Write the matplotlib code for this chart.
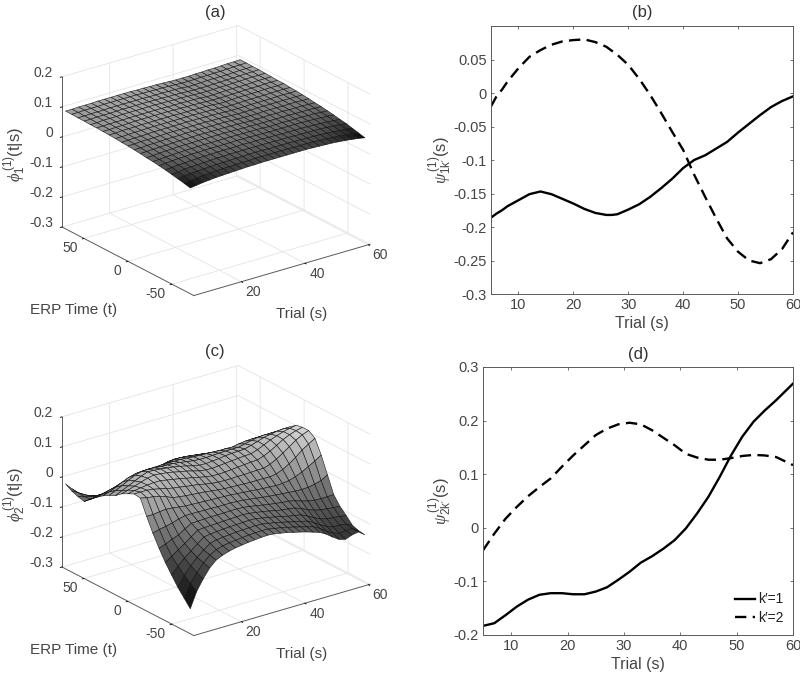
import numpy as np
import matplotlib
matplotlib.use("Agg")
import matplotlib.pyplot as plt
from mpl_toolkits.mplot3d import proj3d

plt.rcParams['font.family'] = ['Liberation Sans', 'DejaVu Sans']
plt.rcParams['mathtext.fontset'] = 'custom'
plt.rcParams['mathtext.rm'] = 'Liberation Sans'
plt.rcParams['mathtext.it'] = 'Liberation Serif:italic'
plt.rcParams['mathtext.fallback'] = 'stix'
plt.rcParams['axes.unicode_minus'] = False

W, H = 800, 674
TXT = '#454545'
AXC = '#5a5a5a'

# ---- curves ----
trial_b = [5,6,7,8,10,12,14,16,18,20,22,24,26,27,28,30,32,34,36,38,40,42,44,46,48,50,52,54,56,58,60]
b_solid = [-.186,-.180,-.175,-.169,-.160,-.151,-.147,-.151,-.158,-.165,-.173,-.179,-.182,-.182,-.181,-.174,-.166,-.155,-.142,-.128,-.112,-.100,-.093,-.083,-.073,-.059,-.046,-.033,-.021,-.012,-.005]
trial_b2 = [5,6,7,8,10,12,14,16,18,20,22,24,26,28,30,32,34,36,38,40,42,44,46,48,50,52,54,56,58,60]
b_dash = [-.020,-.005,.005,.017,.037,.054,.064,.072,.077,.079,.080,.076,.069,.057,.042,.021,-.003,-.030,-.058,-.085,-.122,-.155,-.187,-.217,-.237,-.250,-.254,-.248,-.233,-.208]
trial_d = [5,7,9,11,13,15,17,19,21,23,25,27,29,31,33,35,37,39,41,43,45,47,49,51,53,55,57,60]
d_solid = [-.183,-.178,-.163,-.147,-.134,-.125,-.122,-.122,-.124,-.124,-.119,-.111,-.097,-.082,-.065,-.053,-.039,-.023,-.001,.027,.058,.095,.135,.170,.198,.219,.238,.269]
d_dash = [-.042,-.011,.017,.039,.059,.076,.092,.114,.135,.154,.173,.185,.193,.196,.193,.182,.168,.154,.138,.131,.127,.127,.130,.134,.136,.135,.132,.117]

# ---- surfaces: columns per trial, thousandths, from t=-71 to t=71 ----
phi1_cols = [
[52,57,61,65,69,72,75,77,80,82,84,85,87,88,89,90,90,91,91,92,92],
[55,59,64,67,71,74,76,78,81,82,84,86,87,88,89,90,90,91,91,92,92],
[58,62,66,70,73,76,78,80,82,84,86,87,88,90,90,91,92,92,92,93,93],
[60,64,68,71,74,77,79,81,83,84,86,87,89,90,90,91,92,92,92,93,93],
[62,66,69,72,75,78,80,82,83,85,86,88,89,90,91,91,92,92,92,93,93],
[63,67,70,73,76,79,81,83,84,86,87,89,90,91,92,92,93,93,93,94,94],
[64,68,71,74,77,79,81,83,85,86,88,89,90,91,92,92,93,93,93,94,94],
[65,68,72,75,77,80,82,83,85,86,88,89,90,91,92,92,93,93,93,94,94],
[66,69,72,75,78,80,82,84,85,87,88,89,90,91,92,92,93,93,93,94,94],
[67,70,73,76,78,80,82,84,86,87,88,89,90,91,92,92,93,93,93,94,94],
[67,70,73,76,78,80,82,84,85,87,88,90,90,91,92,92,93,93,93,94,94],
[68,71,74,76,78,80,82,84,85,87,88,89,90,90,91,91,92,92,92,93,93],
[68,71,74,76,79,81,82,84,85,86,88,89,90,90,91,91,92,92,92,93,93],
[68,71,74,76,78,80,82,83,85,86,87,88,89,90,90,91,91,91,92,92,92],
[68,71,73,76,78,80,81,83,84,86,87,88,89,89,90,90,91,91,91,92,92],
[68,71,73,76,78,79,81,82,84,85,86,87,88,89,89,90,90,90,91,91,91],
[68,71,73,75,77,79,81,82,83,84,85,86,87,88,88,89,89,89,90,90,90],
[68,70,73,75,77,78,80,81,82,83,84,85,86,86,87,87,88,88,88,89,89],
[68,70,72,75,76,78,79,81,82,83,84,85,85,86,87,87,88,88,88,89,89],
[67,70,72,74,76,78,79,81,82,83,84,85,86,87,87,88,88,88,89,89,89],
[66,69,71,74,76,78,80,81,83,84,85,86,87,88,88,89,89,89,90,90,90],
[65,68,71,73,76,78,79,81,82,84,85,86,87,88,88,89,89,89,90,90,90],
[64,67,70,73,75,78,79,81,83,84,85,86,87,88,89,89,90,90,90,91,91],
[62,65,69,72,74,77,79,80,82,83,85,86,87,88,89,89,90,90,90,91,91],
[60,64,67,71,73,76,78,80,82,84,85,87,88,89,89,90,91,91,91,92,92],
[57,61,65,69,72,75,78,80,82,84,85,87,88,89,90,91,92,92,92,93,93],
[54,59,63,67,70,74,76,79,81,83,85,86,88,89,90,91,91,92,92,93,93],
[50,55,60,65,68,72,75,78,80,83,85,87,88,90,90,91,92,93,93,94,94],
]
phi2_cols = [
[-217,-192,-167,-137,-106,-70,-30,15,65,68,58,47,30,20,8,-8,-25,-43,-38,-30,-17],
[-165,-150,-134,-114,-92,-62,-24,15,60,68,62,53,40,30,15,-3,-22,-42,-45,-42,-40],
[-130,-120,-108,-93,-76,-52,-20,18,57,68,65,60,50,40,24,4,-18,-40,-50,-55,-60],
[-100,-94,-86,-76,-62,-44,-15,20,52,65,68,67,60,52,35,10,-14,-36,-53,-65,-75],
[-80,-74,-68,-58,-46,-30,-8,18,45,60,70,74,70,62,44,16,-9,-33,-54,-70,-84],
[-70,-62,-52,-42,-30,-18,-3,15,35,55,70,78,78,68,50,22,-5,-30,-55,-74,-89],
[-63,-56,-47,-38,-28,-17,-3,12,32,50,66,76,77,69,52,24,-3,-28,-53,-74,-90],
[-58,-52,-44,-36,-27,-16,-3,11,29,47,62,73,75,68,53,26,0,-25,-50,-71,-88],
[-55,-50,-42,-34,-26,-15,-4,10,27,43,58,69,72,66,53,29,3,-21,-47,-68,-85],
[-52,-47,-40,-33,-25,-15,-4,9,25,40,53,64,69,65,54,31,7,-18,-43,-65,-82],
[-50,-45,-39,-32,-24,-15,-5,8,23,37,49,60,65,64,54,34,11,-14,-38,-62,-80],
[-48,-44,-38,-31,-23,-14,-5,7,20,32,44,54,60,61,54,38,18,-6,-30,-55,-75],
[-47,-43,-37,-30,-22,-14,-5,6,17,28,39,48,54,57,54,43,25,3,-22,-49,-70],
[-49,-44,-38,-31,-24,-15,-6,5,15,26,36,45,50,54,52,43,27,6,-19,-45,-66],
[-53,-48,-42,-35,-27,-18,-8,3,14,25,35,44,49,52,50,41,26,6,-18,-43,-62],
[-57,-52,-46,-39,-31,-22,-11,1,13,25,36,46,51,52,49,38,24,5,-18,-42,-60],
[-63,-57,-51,-44,-35,-26,-14,-1,12,26,38,48,53,53,48,35,21,3,-20,-43,-60],
[-68,-62,-56,-49,-40,-30,-17,-3,11,26,40,50,56,54,47,32,18,0,-23,-45,-60],
[-74,-68,-62,-54,-44,-33,-20,-5,11,27,42,52,58,55,46,29,14,-5,-26,-47,-60],
[-81,-74,-67,-58,-47,-36,-22,-6,11,28,44,54,59,55,46,27,11,-9,-29,-49,-60],
[-88,-80,-72,-62,-50,-38,-24,-8,10,28,45,55,60,55,45,25,8,-12,-32,-50,-60],
[-100,-92,-83,-72,-58,-43,-26,-7,14,35,52,62,66,60,49,26,9,-12,-34,-52,-60],
[-116,-107,-97,-84,-68,-50,-28,-4,22,46,62,72,73,65,52,25,8,-14,-36,-54,-62],
[-130,-120,-108,-94,-76,-56,-29,3,35,60,75,82,80,69,53,23,7,-15,-38,-56,-65],
[-136,-127,-116,-100,-81,-60,-28,12,50,75,88,90,84,71,53,21,5,-17,-40,-58,-68],
[-128,-124,-117,-102,-84,-61,-24,24,68,90,98,97,88,71,52,19,3,-19,-42,-60,-72],
[-124,-124,-120,-105,-86,-61,-18,36,82,102,105,102,90,71,51,17,2,-20,-43,-62,-76],
[-140,-137,-130,-108,-88,-60,-5,50,95,110,110,106,90,70,50,15,0,-22,-45,-63,-80],
]
trial_grid = np.linspace(5, 60, 28)
time_grid = np.linspace(-71, 71, 21)

x3_ticks = [20, 40, 60]
y3_ticks = [-50, 0, 50]
z_ticks = [-.3, -.2, -.1, 0, .1, .2]
z_labels = ['-0.3', '-0.2', '-0.1', '0', '0.1', '0.2']

fig = plt.figure(figsize=(W / 100, H / 100), dpi=100)


def px(x, y):
    return x / W, 1 - y / H


def surface(cols, vmin, vmax, dy, zlabel, title, lw):
    ax = fig.add_axes([0.02, 0.5 - dy / H, 0.46, 0.5], projection='3d', computed_zorder=True)
    ax.set_proj_type('ortho')
    ax.view_init(elev=22.9, azim=-126.8)
    ax.set_box_aspect((220, 220, 163), zoom=1.0)
    ax.patch.set_alpha(0)
    X, Y = np.meshgrid(trial_grid, time_grid)
    Z = np.array(cols).T / 1000
    ax.plot_surface(X, Y, Z, cmap='gray', vmin=vmin, vmax=vmax, rstride=1, cstride=1,
                    edgecolor=(0.05, 0.05, 0.05, 0.85), linewidth=lw, shade=False, antialiased=True)
    ax.set_xlim(5, 60.5, view_margin=0)
    ax.set_ylim(-75, 75, view_margin=0)
    ax.set_zlim(-.3, .2, view_margin=0)
    ax.set_xticks(x3_ticks)
    ax.set_yticks(y3_ticks)
    ax.set_zticks(z_ticks)
    ax.set_xticklabels([''] * 3)
    ax.set_yticklabels([''] * 3)
    ax.set_zticklabels([''] * 6)
    for a in (ax.xaxis, ax.yaxis, ax.zaxis):
        a.set_pane_color((1, 1, 1, 0))
        a.pane.set_edgecolor('#e6e6e6')
        a.line.set_color(AXC)
        a.line.set_linewidth(0.7)
        a._axinfo['grid'].update(color='#e4e4e4', linewidth=0.6)
        a._axinfo['tick'].update(inward_factor=0.12, outward_factor=0.0)
        a._axinfo['tick']['linewidth'] = {True: 0.6, False: 0.4}
        a._axinfo['tick']['color'] = AXC
    # fit the box to the measured corners of the frame
    fig.canvas.draw()

    def corner(x, y, z):
        xs, ys, _ = proj3d.proj_transform(x, y, z, ax.get_proj())
        return ax.transData.transform((xs, ys))
    l, r = corner(5, 75, -.3), corner(60.5, -75, -.3)
    s = 308 / (r[0] - l[0])
    p = ax.get_position()
    ax.set_position([p.x0, p.y0, p.width * s, p.height * s])
    fig.canvas.draw()
    l = corner(5, 75, -.3)
    p = ax.get_position()
    tx, ty = 62, H - (227 + dy)
    ax.set_position([p.x0 + (tx - l[0]) / W, p.y0 + (ty - l[1]) / H, p.width, p.height])
    fig.canvas.draw()

    def tick_text(pt, label, ox, oy, ha):
        d = corner(*pt)
        fig.text((d[0] + ox) / W, (d[1] - oy) / H, label, ha=ha, va='center', fontsize=10, color=TXT)
    for v in x3_ticks:
        tick_text((v, -75, -.3), str(v), 12, 10.5, 'center')
    for v in y3_ticks:
        tick_text((5, v, -.3), str(v), -6.5, 10, 'right')
    for v, lab in zip(z_ticks, z_labels):
        tick_text((5, 75, v), lab, -9, -4, 'right')
    fig.text(*px(215, 13 + dy * 0.995), title, ha='center', va='center', fontsize=12, color='#333333')
    fig.text(*px(74, 310 + dy), 'ERP Time (t)', ha='center', va='center', fontsize=11, color=TXT)
    fig.text(*px(302, 314 + dy), 'Trial (s)', ha='center', va='center', fontsize=11, color=TXT)
    fig.text(*px(15, 154 + dy), zlabel, rotation=90, ha='center', va='center', fontsize=12, color=TXT)
    return ax


surface(phi1_cols, 0.05, 0.118, 0, r'$\phi_1^{\,\mathrm{(1)}}$(t|s)', '(a)', 0.45)
surface(phi2_cols, -0.217, 0.18, 340, r'$\phi_2^{\,\mathrm{(1)}}$(t|s)', '(c)', 0.45)


def panel(l, r, t, b, ylim, yt, ytl, title, ylabel, tx, ty, lx):
    ax = fig.add_axes([l / W, 1 - b / H, (r - l) / W, (b - t) / H])
    ax.set_xlim(5, 60)
    ax.set_ylim(*ylim)
    ax.set_xticks(range(10, 61, 10))
    ax.set_yticks(yt)
    ax.set_yticklabels(ytl)
    ax.tick_params(direction='in', top=True, right=True, length=2.5, width=0.6, color=AXC,
                   labelsize=10.5, labelcolor=TXT, pad=3)
    for s in ax.spines.values():
        s.set_color(AXC)
        s.set_linewidth(0.7)
    fig.text(*px(tx, ty), title, ha='center', va='center', fontsize=12, color='#333333')
    fig.text(*px((l + r) / 2, b + 29), 'Trial (s)', ha='center', va='center', fontsize=11.5, color=TXT)
    fig.text(*px(lx, (t + b) / 2), ylabel, rotation=90, ha='center', va='center', fontsize=12, color=TXT)
    return ax


axb = panel(491, 793, 26, 294, (-.3, .1), [-.3, -.25, -.2, -.15, -.1, -.05, 0, .05],
            ['-0.3', '-0.25', '-0.2', '-0.15', '-0.1', '-0.05', '0', '0.05'], '(b)',
            r"$\psi_{\mathrm{1k}'}^{\,\mathrm{(1)}}$(s)", 642, 12, 440)
axb.plot(trial_b, b_solid, color='black', lw=1.7, solid_joinstyle='round')
axb.plot(trial_b2, b_dash, color='black', lw=1.7, dashes=(4.8, 2.7))

axd = panel(483, 793, 367, 635, (-.2, .3), [-.2, -.1, 0, .1, .2, .3],
            ['-0.2', '-0.1', '0', '0.1', '0.2', '0.3'], '(d)',
            r"$\psi_{\mathrm{2k}'}^{\,\mathrm{(1)}}$(s)", 638, 355, 440)
axd.plot(trial_d, d_solid, color='black', lw=1.7, label='k′=1', solid_joinstyle='round')
axd.plot(trial_d, d_dash, color='black', lw=1.7, dashes=(4.8, 2.7), label='k′=2')
leg = axd.legend(loc='lower right', frameon=False, fontsize=10, handlelength=1.45, handletextpad=0.2,
                 labelspacing=0.35, borderaxespad=0.3, labelcolor='#222222')

fig.savefig('out.png', dpi=100)
